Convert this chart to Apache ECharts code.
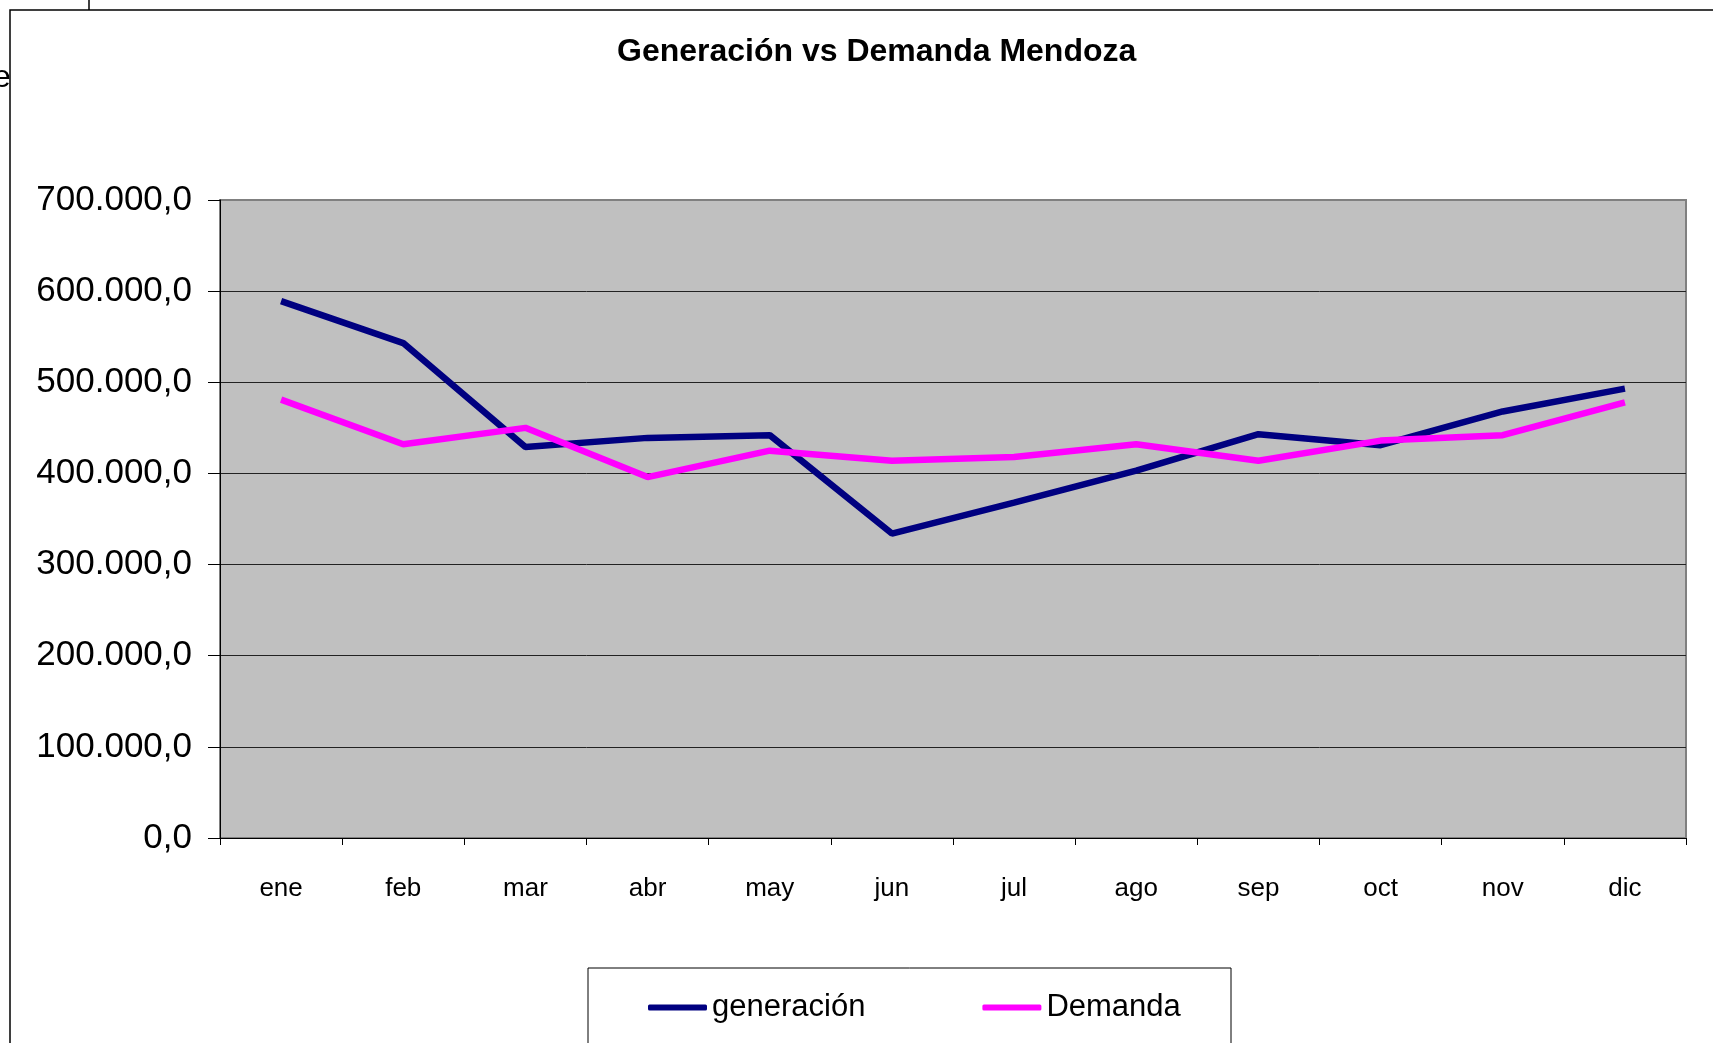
<!DOCTYPE html>
<html>
<head>
<meta charset="utf-8">
<script src="https://cdn.jsdelivr.net/npm/echarts@6/dist/echarts.min.js"></script>
<style>
  html, body { margin: 0; padding: 0; background: #fff; }
  #chart { width: 1713px; height: 1043px; }
</style>
</head>
<body>
<div id="chart"></div>
<script>
// datos
var meses = ["ene", "feb", "mar", "abr", "may", "jun", "jul", "ago", "sep", "oct", "nov", "dic"];
var generacion = [589000, 543000, 429000, 439000, 442000, 334000, 368000, 403000, 443000, 431000, 468000, 493000];
var demanda = [481000, 432000, 450000, 396000, 425000, 414000, 418000, 432000, 414000, 436000, 442000, 478000];
var yMin = 0, yMax = 700000, yStep = 100000;

var FONT = "'Liberation Sans', Arial, sans-serif";

// 700000 -> "700.000,0"
function fmt(v) {
  var s = String(Math.round(v));
  var out = "";
  while (s.length > 3) {
    out = "." + s.slice(-3) + out;
    s = s.slice(0, -3);
  }
  return s + out + ",0";
}

var chartDom = document.getElementById("chart");
var myChart = echarts.init(chartDom);
var option;

option = {
  animation: false,
  backgroundColor: "#fff",
  title: {
    text: "Generación vs Demanda Mendoza",
    left: 612,
    top: 31,
    textStyle: { fontFamily: FONT, fontSize: 32, fontWeight: "bold", color: "#000" },
  },
  grid: {
    left: 220,
    right: 27,
    top: 200,
    bottom: 205,
    show: true,
    backgroundColor: "#C0C0C0",
    borderColor: "#808080",
    borderWidth: 2,
  },
  legend: {
    data: ["generación", "Demanda"],
    left: 643,
    top: 987,
    icon: "roundRect",
    itemWidth: 59,
    itemHeight: 6,
    itemGap: 117,
    textStyle: { fontFamily: FONT, fontSize: 31, color: "#000", padding: [0, 0, 0, 0] },
  },
  xAxis: {
    type: "category",
    data: meses,
    boundaryGap: true,
    axisLine: { lineStyle: { color: "#000", width: 1 } },
    axisTick: { show: true, length: 7, lineStyle: { color: "#000" } },
    axisLabel: { fontFamily: FONT, fontSize: 26, color: "#000", margin: 38 },
  },
  yAxis: {
    type: "value",
    min: yMin,
    max: yMax,
    interval: yStep,
    axisLine: { show: true, lineStyle: { color: "#000", width: 1 } },
    axisTick: { show: true, length: 12, lineStyle: { color: "#000" } },
    axisLabel: { fontFamily: FONT, fontSize: 35, color: "#000", margin: 28, formatter: fmt },
    splitLine: {
      show: true,
      lineStyle: {
        color: ["#000", "#222", "#222", "#222", "#222", "#222", "#222", "#808080"],
        width: 1,
      },
    },
  },
  graphic: [
    {
      type: "rect",
      shape: { x: 10, y: 10, width: 1720, height: 1060 },
      style: { fill: "none", stroke: "#000", lineWidth: 1.5 },
      z: 1,
    },
    {
      type: "line",
      shape: { x1: 89, y1: 0, x2: 89, y2: 10 },
      style: { stroke: "#000", lineWidth: 1.5 },
    },
    {
      type: "text",
      left: -7,
      top: 62,
      style: { text: "e", font: "32px " + FONT, fill: "#000" },
    },
    {
      type: "rect",
      shape: { x: 588, y: 968, width: 643, height: 100 },
      style: { fill: "#fff", stroke: "#000", lineWidth: 1 },
      z: 1,
    },
  ],
  series: [
    {
      name: "generación",
      type: "line",
      data: generacion,
      symbol: "none",
      color: "#000080",
      lineStyle: { color: "#000080", width: 6.5 },
      z: 3,
    },
    {
      name: "Demanda",
      type: "line",
      data: demanda,
      symbol: "none",
      color: "#FF00FF",
      lineStyle: { color: "#FF00FF", width: 6.5 },
      z: 4,
    },
  ],
};

option && myChart.setOption(option);
</script>
</body>
</html>
